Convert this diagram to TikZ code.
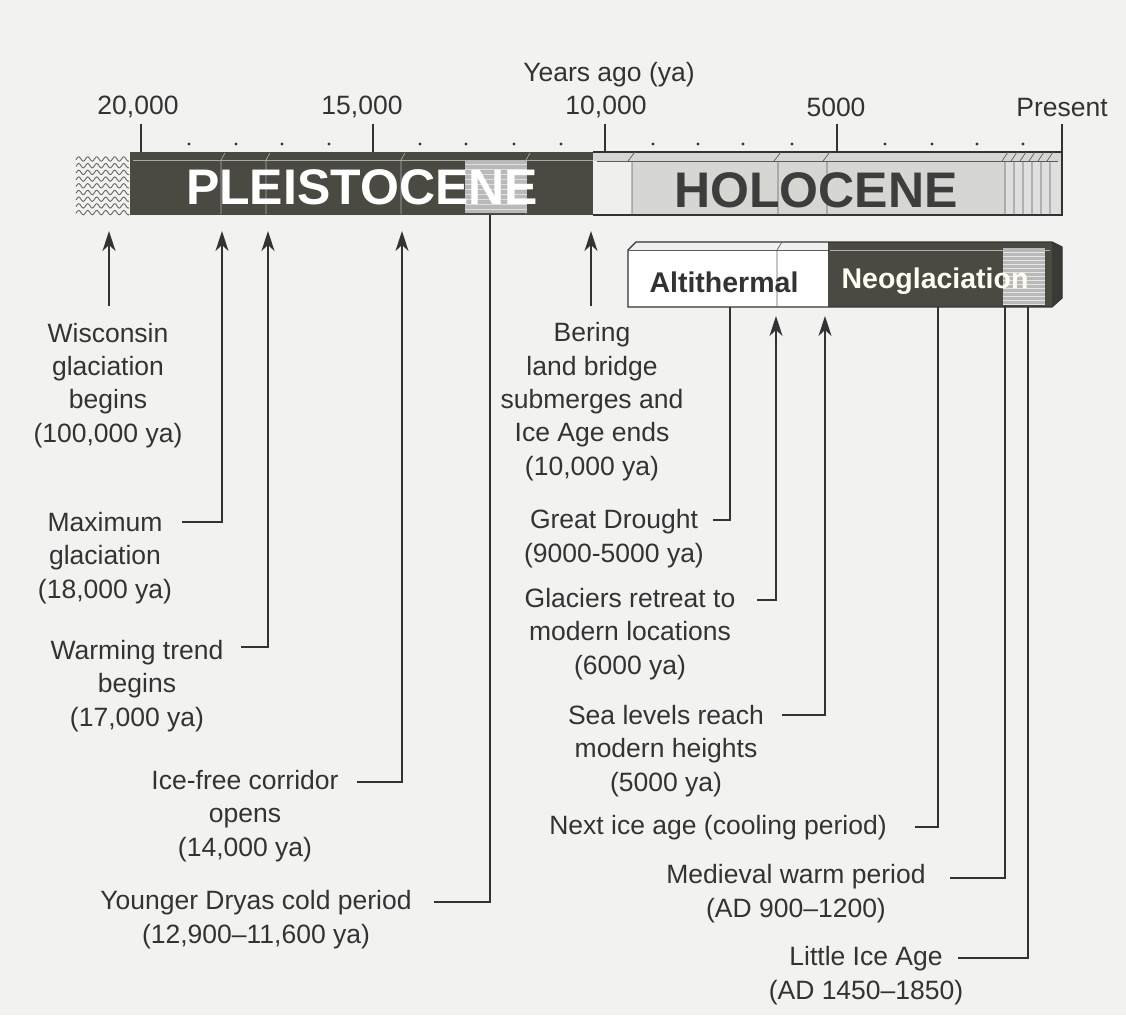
\documentclass[tikz,border=0pt]{standalone}
\usepackage{fontspec}
\setmainfont{Liberation Sans}
\usetikzlibrary{arrows.meta}
\definecolor{ink}{HTML}{333333}
\definecolor{paper}{HTML}{F2F3F1}
\definecolor{darkbar}{HTML}{4A4A42}
\definecolor{lightbar}{HTML}{D6D6D3}
\begin{document}
\begin{tikzpicture}[x=1pt,y=-1pt,
  lbl/.style={font=\fontsize{26.5}{33.3}\selectfont, text=ink, align=center, inner sep=0pt, anchor=base},
  conn/.style={draw=ink, line width=1.8pt},
  arr/.style={conn, -{Stealth[length=20pt,width=13pt,inset=6pt]}},
  bigtxt/.style={font=\bfseries\fontsize{50}{50}\selectfont, inner sep=0pt},
  midtxt/.style={font=\bfseries\fontsize{28.5}{30}\selectfont, inner sep=0pt},
  tickln/.style={draw=ink, line width=1.6pt},
  edge/.style={draw=ink, line width=1.2pt},
  thinln/.style={draw=ink!80, line width=0.7pt}]
% background
\fill[paper] (0,0) rectangle (1126,1015);
\useasboundingbox (0,0) rectangle (1126,1015);

% axis title and tick labels
\node[lbl] (yago) at (609,81) {Years ago (ya)};
\node[lbl] (t20) at (138,114) {20,000};
\node[lbl] (t15) at (362,114) {15,000};
\node[lbl] (t10) at (606,114) {10,000};
\node[lbl] (t5) at (836,116) {5000};
\node[lbl] (t0) at (1062,116) {Present};

% ticks
\draw[tickln] (141,124) -- (141,154);
\draw[tickln] (373,124) -- (373,154);
\draw[tickln] (605,124) -- (605,154);
\draw[tickln] (837,124) -- (837,154);
\draw[tickln] (1062,124) -- (1062,160);
\foreach \x in {189,236,282,329,420,466,514,561,653,698,743,792,885,932,977,1023}
  \fill[ink] (\x,144) circle (1.6);

% wavy region
\foreach \r in {0,...,8}
  \draw[ink!75, line width=0.9pt] plot[domain=76:129, samples=60] (\x, {159+\r*6.7+2.2*sin(40*\x)});

% Pleistocene bar
\fill[darkbar] (130,152) rectangle (593,215);
\draw[gray!70, line width=1pt] (133,160) -- (593,160);
\foreach \x in {225,270,405,530}
  \draw[gray!60, line width=0.6pt] (\x-4,160) -- (\x,153) (\x-4,160) -- (\x-4,214);
\fill[gray!55] (465,160) rectangle (527,213);
\foreach \y in {164,169,...,212}
  \draw[white!75!gray, line width=0.5pt] (465,\y) -- (527,\y);
\node[bigtxt, text=white] (pleis) at (362,187) {PLEISTOCENE};

% Holocene bar
\fill[lightbar] (593,152) rectangle (1062,215);
\fill[white!60!lightbar] (593,161) rectangle (632,215);
\fill[gray!25] (1005,161) rectangle (1060,215);
\draw[edge] (593,152) -- (1062,152) -- (1062,215) -- (593,215);
\draw[thinln] (597,161) -- (1058,161);
\draw[thinln] (632,161) -- (632,215) (628,161) -- (635,152);
\draw[thinln] (778,161) -- (778,215) (774,161) -- (781,152);
\draw[thinln] (827,161) -- (827,215) (823,161) -- (830,152);
\foreach \x in {1005,1014,1023,1032,1041,1050}
  \draw[thinln] (\x,161) -- (\x,215) (\x-3,161) -- (\x+3,152);
\node[bigtxt, text=ink!95] (holo) at (816,190) {HOLOCENE};

% lower bar: Altithermal / Neoglaciation
\fill[white] (628,250) rectangle (828,307);
\fill[gray!12] (628,250) -- (636,242) -- (828,242) -- (828,250) -- cycle;
\fill[darkbar] (828,242) rectangle (1052,307);
\fill[darkbar!80!black] (1052,307) -- (1062,298) -- (1062,247) -- (1052,242) -- cycle;
\fill[gray!55] (1003,248) rectangle (1045,305);
\foreach \y in {252,256,...,304}
  \draw[white!80!gray, line width=0.6pt] (1003,\y) -- (1045,\y);
\draw[gray!60, line width=0.8pt] (830,250) -- (1050,250);
\draw[edge] (628,307) -- (628,250) -- (636,242) -- (1052,242) -- (1062,247) -- (1062,298) -- (1052,307) -- cycle;
\draw[thinln] (628,250) -- (828,250);
\draw[thinln] (777,250) -- (777,307) (777,250) -- (782,242);
\node[midtxt, text=ink] (alti) at (724,282) {Altithermal};
\node[midtxt, text=white!94!yellow] (neo) at (935,281) {Neoglaciation};

% labels (left) -- anchored at the baseline of the last line
\node[lbl] (wis) at (108,442) {Wisconsin\\glaciation\\begins\\(100,000 ya)};
\node[lbl] (maxg) at (105,598) {Maximum\\glaciation\\(18,000 ya)};
\node[lbl] (warm) at (137,726) {Warming trend\\begins\\(17,000 ya)};
\node[lbl] (icef) at (245,856) {Ice-free corridor\\opens\\(14,000 ya)};
\node[lbl] (ydry) at (256,943) {Younger Dryas cold period\\(12,900--11,600 ya)};
% labels (right)
\node[lbl] (ber) at (592,475) {Bering\\land bridge\\submerges and\\Ice Age ends\\(10,000 ya)};
\node[lbl] (gdr) at (614,562) {Great Drought\\(9000-5000 ya)};
\node[lbl] (glr) at (630,674) {Glaciers retreat to\\modern locations\\(6000 ya)};
\node[lbl] (sea) at (666,791) {Sea levels reach\\modern heights\\(5000 ya)};
\node[lbl] (nxt) at (718,834) {Next ice age (cooling period)};
\node[lbl] (med) at (796,917) {Medieval warm period\\(AD 900--1200)};
\node[lbl] (lia) at (866,999) {Little Ice Age\\(AD 1450--1850)};

% connector endpoints
\coordinate (wisS) at (109,306);  \coordinate (wisT) at (109,231);
\coordinate (maxS) at (182,522);  \coordinate (maxT) at (222,231);
\coordinate (warS) at (241,647);  \coordinate (warT) at (268,231);
\coordinate (iceS) at (357,782);  \coordinate (iceT) at (402,231);
\coordinate (ydrS) at (434,902);  \coordinate (ydrT) at (490,215);
\coordinate (berS) at (591,306);  \coordinate (berT) at (591,231);
\coordinate (gdrS) at (713,520);  \coordinate (gdrT) at (730,307);
\coordinate (glrS) at (757,600);  \coordinate (glrT) at (776,316);
\coordinate (seaS) at (782,715);  \coordinate (seaT) at (825,316);
\coordinate (nxtS) at (915,827);  \coordinate (nxtT) at (938,307);
\coordinate (medS) at (950,878);  \coordinate (medT) at (1005,307);
\coordinate (liaS) at (958,958);  \coordinate (liaT) at (1028,307);

% connectors
\draw[arr] (wisS) -- (wisT);
\draw[arr] (maxS) -| (maxT);
\draw[arr] (warS) -| (warT);
\draw[arr] (iceS) -| (iceT);
\draw[conn] (ydrS) -| (ydrT);
\draw[arr] (berS) -- (berT);
\draw[conn] (gdrS) -| (gdrT);
\draw[arr] (glrS) -| (glrT);
\draw[arr] (seaS) -| (seaT);
\draw[conn] (nxtS) -| (nxtT);
\draw[conn] (medS) -| (medT);
\draw[conn] (liaS) -| (liaT);
\end{tikzpicture}
\end{document}
